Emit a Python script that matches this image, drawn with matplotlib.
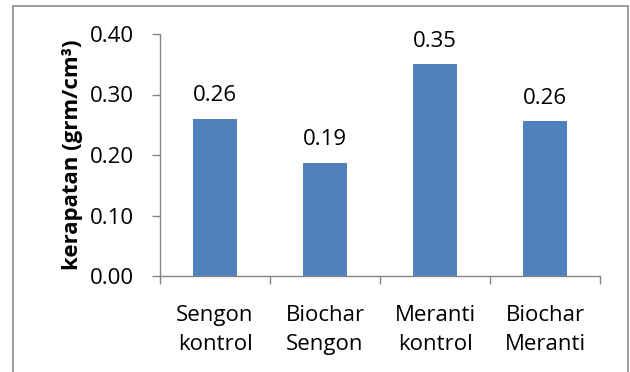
import matplotlib
matplotlib.use("Agg")
import matplotlib.pyplot as plt
from matplotlib.patches import Rectangle

categories = ["Sengon\nkontrol", "Biochar\nSengon", "Meranti\nkontrol", "Biochar\nMeranti"]
values = [0.26, 0.187, 0.35, 0.256]
yticks = [0.00, 0.10, 0.20, 0.30, 0.40]

FS = 16
plt.rcParams['font.family'] = ['Open Sans', 'DejaVu Sans']
fig = plt.figure(figsize=(6.3, 3.72), dpi=100)
ax = fig.add_axes([160/630, 1-276/372, 440/630, 242/372])

x = list(range(len(categories)))
ax.bar(x, values, width=0.4, color="#4F81BD", zorder=2)
for xi, v in zip(x, values):
    ax.annotate(f"{v:.2f}", (xi, v), xytext=(0, 9), textcoords="offset points",
                ha="center", va="bottom", fontsize=FS, color="black")

ax.set_xlim(-0.5, len(categories) - 0.5)
ax.set_ylim(0, 0.40)
ax.set_yticks(yticks)
ax.set_yticklabels([f"{t:.2f}" for t in yticks], fontsize=FS)
ax.set_xticks(x)
ax.set_xticklabels(categories, fontsize=FS, linespacing=1.5, multialignment="center")
ax.set_xticks([i - 0.5 for i in range(len(categories) + 1)], minor=True)
ax.tick_params(axis='x', which='major', length=0, pad=21)
ax.tick_params(axis='x', which='minor', length=6, color="#868686", width=1, direction='out')
ax.tick_params(axis='y', length=6, color="#868686", width=1, pad=13)
for s in ["top", "right"]:
    ax.spines[s].set_visible(False)
for s in ["left", "bottom"]:
    ax.spines[s].set_color("#868686")
    ax.spines[s].set_linewidth(1)
ax.set_ylabel("kerapatan (grm/cm³)", fontsize=FS, fontweight="bold", labelpad=5)

border = Rectangle((13/630, -0.05), (628-13)/630, 1 - 6/372 + 0.05, transform=fig.transFigure,
                   fill=False, edgecolor="#8c8c8c", linewidth=1.2, clip_on=False)
fig.patches.append(border)

fig.savefig("out.png", dpi=100)
